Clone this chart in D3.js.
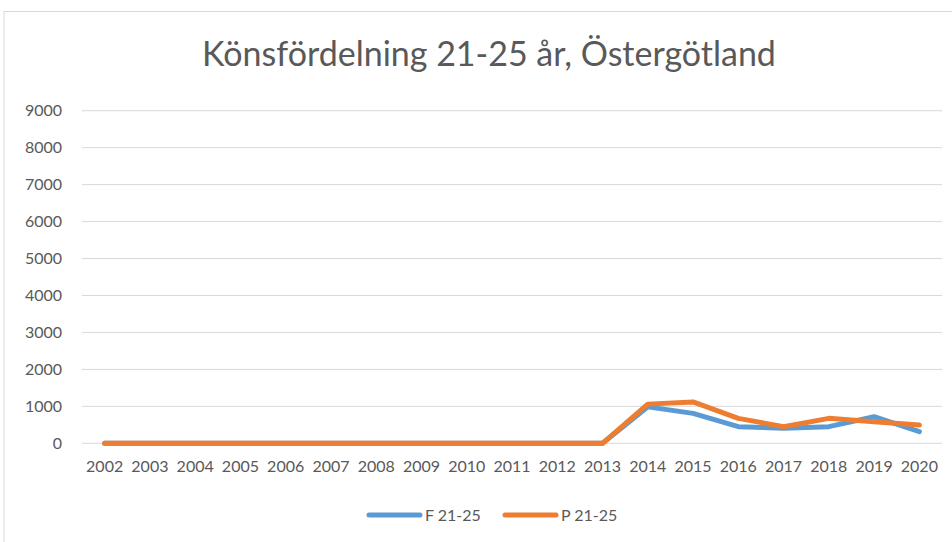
<!DOCTYPE html>
<html>
<head>
<meta charset="utf-8">
<script src="https://cdn.jsdelivr.net/npm/d3@7"></script>
<style>
body { margin: 0; background: #fff; }
text { font-family: Lato, "Liberation Sans", sans-serif; }
</style>
</head>
<body>
<div id="chart"></div>
<script>
// data
const years = ["2002","2003","2004","2005","2006","2007","2008","2009","2010","2011","2012","2013","2014","2015","2016","2017","2018","2019","2020"];
const f_values = [0,0,0,0,0,0,0,0,0,0,0,0,985,810,450,405,450,720,315];
const p_values = [0,0,0,0,0,0,0,0,0,0,0,0,1060,1120,675,450,675,585,495];
const y_ticks = [0,1000,2000,3000,4000,5000,6000,7000,8000,9000];
const series = [
	{name: "F 21-25", values: f_values, color: "#5B9BD5"},
	{name: "P 21-25", values: p_values, color: "#ED7D31"}
];

const width = 952, height = 542;
const margin = {top: 110.7, right: 10, bottom: 542 - 443.3, left: 82};

const svg = d3.select("#chart").append("svg")
	.attr("width", width)
	.attr("height", height);

// chart frame
svg.append("rect")
	.attr("x", 4).attr("y", 11.5)
	.attr("width", 960).attr("height", 560)
	.attr("fill", "none")
	.attr("stroke", "#d9d9d9")
	.attr("stroke-width", 1);

svg.append("text")
	.attr("x", 489).attr("y", 66)
	.attr("text-anchor", "middle")
	.attr("fill", "#595959")
	.style("font-size", "34px")
	.text("Könsfördelning 21-25 år, Östergötland");

const x = d3.scaleBand().domain(years).range([margin.left, 942]);
const y = d3.scaleLinear().domain([0, 9000]).range([height - margin.bottom, margin.top]);

// gridlines
svg.append("g")
	.selectAll("line")
	.data(y_ticks)
	.join("line")
		.attr("x1", margin.left).attr("x2", 942)
		.attr("y1", d => y(d)).attr("y2", d => y(d))
		.attr("stroke", "#d9d9d9")
		.attr("stroke-width", 1);

// y axis
const yAxis = svg.append("g")
	.attr("transform", `translate(${margin.left - 20},0)`)
	.call(d3.axisLeft(y).tickValues(y_ticks).tickFormat(d3.format("d")).tickSize(0).tickPadding(0));
yAxis.select(".domain").remove();
yAxis.selectAll("text")
	.attr("fill", "#595959")
	.style("font-size", "16px")
	.style("font-family", "Lato, sans-serif");

// x axis
const xAxis = svg.append("g")
	.attr("transform", `translate(0,${y(0)})`)
	.call(d3.axisBottom(x).tickSize(0).tickPadding(17));
xAxis.select(".domain").remove();
xAxis.selectAll("text")
	.attr("fill", "#595959")
	.style("font-size", "16px")
	.style("font-family", "Lato, sans-serif");

const line = d3.line()
	.x((d, i) => x(years[i]) + x.bandwidth() / 2)
	.y(d => y(d));

svg.selectAll(".series")
	.data(series)
	.join("path")
		.attr("class", "series")
		.attr("d", d => line(d.values))
		.attr("fill", "none")
		.attr("stroke", d => d.color)
		.attr("stroke-width", 5)
		.attr("stroke-linecap", "round")
		.attr("stroke-linejoin", "round");

// legend
const legend = svg.append("g")
	.selectAll("g")
	.data(series)
	.join("g")
		.attr("transform", (d, i) => `translate(${369 + i * 136},515)`);
legend.append("line")
	.attr("x1", 0).attr("x2", 51)
	.attr("stroke", d => d.color)
	.attr("stroke-width", 5)
	.attr("stroke-linecap", "round");
legend.append("text")
	.attr("x", 56).attr("y", 6)
	.attr("fill", "#595959")
	.style("font-size", "16px")
	.text(d => d.name);
</script>
</body>
</html>
